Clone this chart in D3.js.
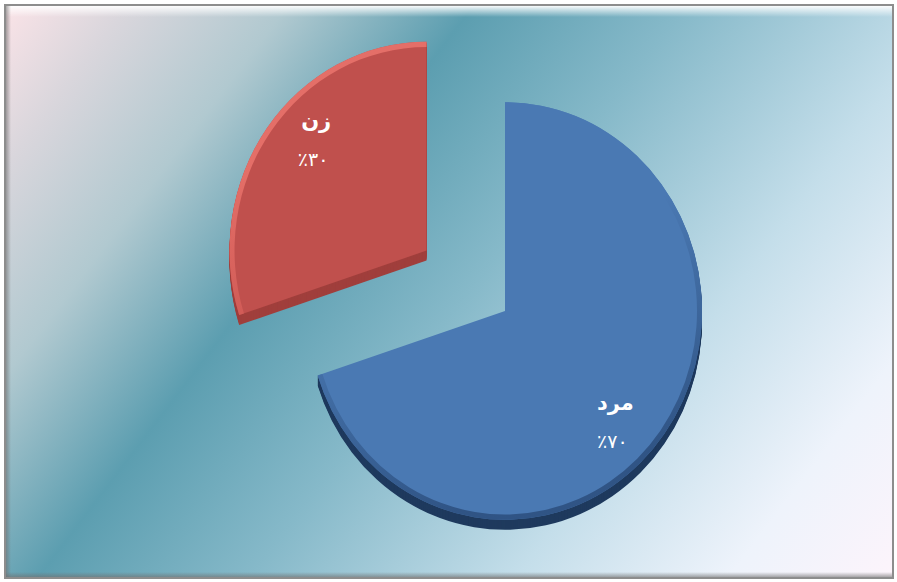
<!DOCTYPE html>
<html>
<head>
<meta charset="utf-8">
<script src="https://cdnjs.cloudflare.com/ajax/libs/d3/7.8.5/d3.min.js"></script>
<style>
  html, body { margin: 0; padding: 0; background: #ffffff; }
  svg { display: block; }
</style>
</head>
<body>
<svg id="chart"></svg>
<script>
// chart data
var categories = ["مرد", "زن"];
var values = [70, 30];
var percentLabels = ["٪۷۰", "٪۳۰"];
var faceColors = ["#4a79b3", "#c0504d"];
var sideColors = ["#1f3a5e", "#a03f3c"];
var rimTop = ["#4a79b3", "#e8726b"];
var rimBottom = ["#2d5080", "#d05a55"];
var explode = [0, 97];

var width = 897, height = 582;
const svg = d3.select('#chart').attr('width', width).attr('height', height);
const defs = svg.append('defs');

// background gradient (pink corner, teal band, pale bottom right)
const bg = defs.append('linearGradient').attr('id', 'bg')
  .attr('gradientUnits', 'userSpaceOnUse')
  .attr('x1', 0).attr('y1', 0).attr('x2', 840).attr('y2', 640);
[["0%", "#fde4e8"], ["10%", "#d9d6dc"], ["22%", "#b1c9d0"], ["36%", "#5c9eb0"],
 ["52%", "#86b9c9"], ["72%", "#c4deea"], ["88%", "#eef3fb"], ["100%", "#fcf4fb"]]
  .forEach(s => bg.append('stop').attr('offset', s[0]).attr('stop-color', s[1]));

const topHi = defs.append('linearGradient').attr('id', 'topHi')
  .attr('x1', 0).attr('y1', 0).attr('x2', 0).attr('y2', 1);
topHi.append('stop').attr('offset', '0%').attr('stop-color', '#ffffff').attr('stop-opacity', 0.95);
topHi.append('stop').attr('offset', '100%').attr('stop-color', '#ffffff').attr('stop-opacity', 0);

const leftSh = defs.append('linearGradient').attr('id', 'leftSh')
  .attr('x1', 0).attr('y1', 0).attr('x2', 1).attr('y2', 0);
leftSh.append('stop').attr('offset', '0%').attr('stop-color', '#6f6f6f').attr('stop-opacity', 0.6);
leftSh.append('stop').attr('offset', '100%').attr('stop-color', '#6f6f6f').attr('stop-opacity', 0);

const botSh = defs.append('linearGradient').attr('id', 'botSh')
  .attr('x1', 0).attr('y1', 1).attr('x2', 0).attr('y2', 0);
botSh.append('stop').attr('offset', '0%').attr('stop-color', '#6f6f6f').attr('stop-opacity', 0.6);
botSh.append('stop').attr('offset', '100%').attr('stop-color', '#6f6f6f').attr('stop-opacity', 0);

// rim gradients for bevel
categories.forEach((c, i) => {
  const g = defs.append('linearGradient').attr('id', 'rim' + i)
    .attr('x1', 0).attr('y1', 0).attr('x2', 0.3).attr('y2', 1);
  g.append('stop').attr('offset', '0%').attr('stop-color', rimTop[i]);
  g.append('stop').attr('offset', '45%').attr('stop-color', rimTop[i]);
  g.append('stop').attr('offset', '100%').attr('stop-color', rimBottom[i]);
});

// frame
svg.append('rect').attr('x', 5).attr('y', 5).attr('width', 888).attr('height', 573)
  .attr('fill', 'url(#bg)').attr('stroke', '#8d8d8d').attr('stroke-width', 2);
svg.append('rect').attr('x', 6).attr('y', 6).attr('width', 886).attr('height', 11)
  .attr('fill', 'url(#topHi)');
svg.append('rect').attr('x', 6).attr('y', 6).attr('width', 5).attr('height', 571)
  .attr('fill', 'url(#leftSh)');
svg.append('rect').attr('x', 6).attr('y', 572).attr('width', 886).attr('height', 5)
  .attr('fill', 'url(#botSh)');

// pie geometry
const cx = 505, cy = 311;
const radius = 197, yStretch = 1.06, depth = 10;

const pie = d3.pie().sort(null).startAngle(0).endAngle(2 * Math.PI);
const arcs = pie(values);
const arc = d3.arc().innerRadius(0).outerRadius(radius);
const rimArc = d3.arc().innerRadius(radius - 5).outerRadius(radius);

const g = svg.append('g').attr('transform', `translate(${cx},${cy})`);

const slices = g.selectAll('.slice')
  .data(arcs)
  .join('g')
  .attr('class', 'slice')
  .attr('transform', (d, i) => {
    const a = (d.startAngle + d.endAngle) / 2;
    const dx = Math.sin(a) * explode[i];
    const dy = -Math.cos(a) * explode[i] * yStretch;
    return `translate(${dx},${dy})`;
  });

// extruded side, then face and bevel rim
slices.each(function (d, i) {
  const s = d3.select(this);
  for (let k = depth; k >= 1; k--) {
    s.append('path')
      .attr('transform', `translate(0,${k}) scale(1,${yStretch})`)
      .attr('d', arc(d))
      .attr('fill', sideColors[i]);
  }
  s.append('path')
    .attr('transform', `scale(1,${yStretch})`)
    .attr('d', arc(d))
    .attr('fill', faceColors[i]);
  s.append('path')
    .attr('transform', `scale(1,${yStretch})`)
    .attr('d', rimArc(d))
    .attr('fill', `url(#rim${i})`)
    .attr('opacity', 0.9);
});

// labels
const labelR = 152, labelShift = 0.13;
slices.each(function (d, i) {
  const a = (d.startAngle + d.endAngle) / 2 + labelShift;
  const lx = Math.sin(a) * labelR;
  const ly = -Math.cos(a) * labelR * yStretch;
  const s = d3.select(this);
  s.append('text')
    .attr('x', lx).attr('y', ly - 12)
    .attr('text-anchor', 'middle')
    .attr('fill', '#ffffff')
    .style('font-family', '"DejaVu Sans", sans-serif')
    .style('font-weight', 'bold')
    .style('font-size', '21px')
    .text(categories[i]);
  s.append('text')
    .attr('x', lx - 3).attr('y', ly + 26)
    .attr('text-anchor', 'middle')
    .attr('fill', '#ffffff')
    .style('font-family', '"DejaVu Sans", sans-serif')
    .style('font-size', '19px')
    .text(percentLabels[i]);
});
</script>
</body>
</html>
